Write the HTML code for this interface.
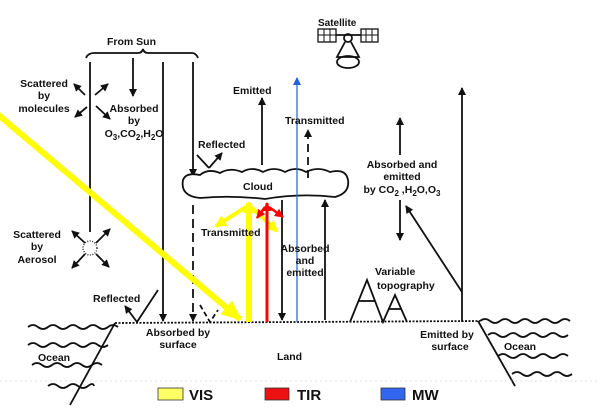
<!DOCTYPE html>
<html><head><meta charset="utf-8"><style>
html,body{margin:0;padding:0;background:#fff;}
svg{display:block;}
text{font-family:"Liberation Sans",sans-serif;font-weight:bold;fill:#111;}
</style></head><body>
<svg width="600" height="416" viewBox="0 0 600 416" xmlns="http://www.w3.org/2000/svg">
<defs>
<marker id="a" markerWidth="8" markerHeight="8" refX="7" refY="4" orient="auto" markerUnits="userSpaceOnUse"><path d="M0,0 L8,4 L0,8 z" fill="#111"/></marker>
<marker id="ay" markerWidth="20" markerHeight="18" refX="18" refY="9" orient="auto" markerUnits="userSpaceOnUse"><path d="M0,0 L20,9 L0,18 z" fill="#ffff00"/></marker>
<marker id="ays" markerWidth="12" markerHeight="12" refX="10" refY="6" orient="auto" markerUnits="userSpaceOnUse"><path d="M0,0 L12,6 L0,12 z" fill="#ffff00"/></marker>
<marker id="ar" markerWidth="9" markerHeight="9" refX="8" refY="4.5" orient="auto" markerUnits="userSpaceOnUse"><path d="M0,0 L9,4.5 L0,9 z" fill="#ff0000"/></marker>
<marker id="ab" markerWidth="8" markerHeight="8" refX="7" refY="4" orient="auto" markerUnits="userSpaceOnUse"><path d="M0,0 L8,4 L0,8 z" fill="#2060e0"/></marker>
</defs>
<g stroke="#111" stroke-width="1.8" fill="none">
<path d="M86,58 Q88,53 94,53 L138,53 Q142,53 143,49 Q144,53 148,53 L192,53 Q196,53 198,58"/>
<line x1="90" y1="62" x2="90" y2="232"/>
<line x1="133" y1="58" x2="133" y2="96" marker-end="url(#a)"/>
<line x1="163" y1="62" x2="163" y2="321" marker-end="url(#a)"/>
<line x1="193" y1="62" x2="193" y2="176" marker-end="url(#a)"/>
<line x1="193" y1="205" x2="193" y2="321" stroke-dasharray="9,5" marker-end="url(#a)"/>
<line x1="85" y1="95" x2="74" y2="84" marker-end="url(#a)"/>
<line x1="95" y1="95" x2="108" y2="84" marker-end="url(#a)"/>
<line x1="87" y1="107" x2="75" y2="117" marker-end="url(#a)"/>
<line x1="96" y1="106" x2="110" y2="119" marker-end="url(#a)"/>
<line x1="85" y1="243" x2="72" y2="231" marker-end="url(#a)"/>
<line x1="96" y1="243" x2="110" y2="229" marker-end="url(#a)"/>
<line x1="85" y1="254" x2="72" y2="268" marker-end="url(#a)"/>
<line x1="96" y1="254" x2="109" y2="267" marker-end="url(#a)"/>
<polyline points="197,155 209,168"/>
<line x1="209" y1="168" x2="222" y2="153" marker-end="url(#a)"/>
<path d="M183,180 Q186,172 200,175 Q208,168 220,173 Q230,167 242,172 Q252,166 263,172 Q274,166 285,172 Q296,166 306,172 Q318,166 330,172 Q346,168 348,180 Q350,193 335,197 Q300,193 265,199 Q230,195 200,198 Q180,196 183,180 Z" fill="#fff"/>
<line x1="262" y1="165" x2="262" y2="98" marker-end="url(#a)"/>
<line x1="308" y1="178" x2="308" y2="130" stroke-dasharray="8,5" marker-end="url(#a)"/>
<line x1="282" y1="200" x2="282" y2="320" marker-end="url(#a)"/>
<line x1="325" y1="320" x2="325" y2="200" marker-end="url(#a)"/>
<line x1="400" y1="155" x2="400" y2="118" marker-end="url(#a)"/>
<line x1="400" y1="200" x2="400" y2="240" marker-end="url(#a)"/>
<line x1="462" y1="322" x2="462" y2="88" marker-end="url(#a)"/>
<line x1="462" y1="292" x2="406" y2="206" marker-end="url(#a)"/>
<path d="M350,322 L367,280 L383,322 L395,295 L407,322"/>
<line x1="359" y1="301" x2="375" y2="301"/>
<line x1="389" y1="309" x2="401" y2="309"/>
<line x1="158" y1="290" x2="137" y2="322"/>
<line x1="137" y1="322" x2="125" y2="306" marker-end="url(#a)"/>
<path d="M200,305 L210,322 L218,310" stroke-dasharray="5,3"/>
<path d="M115,323 L480,321" stroke-dasharray="2,1.5"/>
<line x1="115" y1="323" x2="70" y2="405"/>
<path d="M28,327 q5,-4 10,0 t10,0 t10,0 t10,0 t10,0 t10,0 t10,0 t10,0 t10,0"/>
<path d="M28,345 q5,-4 10,0 t10,0 t10,0 t10,0 t10,0 t10,0 t10,0 t10,0"/>
<path d="M32,365 q5,-4 10,0 t10,0 t10,0 t10,0 t10,0 t10,0 t10,0"/>
<path d="M48,386 q5,-4 10,0 t10,0 t10,0 t10,0 t6,0"/>
<line x1="478" y1="321" x2="515" y2="386"/>
<path d="M480,321 q5,-4 10,0 t10,0 t10,0 t10,0 t10,0 t10,0 t10,0 t10,0 t10,0"/>
<path d="M488,335 q5,-4 10,0 t10,0 t10,0 t10,0 t10,0 t10,0 t10,0 t10,0"/>
<path d="M498,356 q5,-4 10,0 t10,0 t10,0 t10,0 t10,0 t10,0 t10,0"/>
<path d="M512,374 q5,-4 10,0 t10,0 t10,0 t10,0 t10,0 t10,0"/>
<rect x="318" y="29" width="18" height="13" stroke-width="1.3"/>
<line x1="324" y1="29" x2="324" y2="42" stroke-width="1"/><line x1="330" y1="29" x2="330" y2="42" stroke-width="1"/><line x1="318" y1="35" x2="336" y2="35" stroke-width="1"/>
<rect x="361" y="29" width="17" height="13" stroke-width="1.3"/>
<line x1="366" y1="29" x2="366" y2="42" stroke-width="1"/><line x1="372" y1="29" x2="372" y2="42" stroke-width="1"/><line x1="361" y1="35" x2="378" y2="35" stroke-width="1"/>
<line x1="336" y1="35" x2="361" y2="35"/>
<circle cx="348" cy="38" r="4"/>
<path d="M345,42 L337,57 L359,57 L351,42"/>
<ellipse cx="348" cy="62" rx="11" ry="6"/>
</g>
<circle cx="90" cy="248" r="7" fill="none" stroke="#333" stroke-width="1.5" stroke-dasharray="1,1.5"/>
<line x1="297" y1="322" x2="297" y2="78" stroke="#2060e0" stroke-width="1.2" marker-end="url(#ab)"/>
<g stroke="#ffff00" fill="none">
<line x1="-5" y1="112" x2="240" y2="319" stroke-width="6" marker-end="url(#ay)"/>
<line x1="249" y1="322" x2="249" y2="203" stroke-width="6" marker-end="url(#ays)"/>
<line x1="246" y1="207" x2="216" y2="226" stroke-width="4" marker-end="url(#ays)"/>
<line x1="251" y1="207" x2="277" y2="231" stroke-width="4" marker-end="url(#ays)"/>
</g>
<g stroke="#ff0000" fill="none">
<line x1="267" y1="322" x2="267" y2="203" stroke-width="3" marker-end="url(#ar)"/>
<line x1="265" y1="207" x2="257" y2="218" stroke-width="2.5" marker-end="url(#ar)"/>
<line x1="269" y1="207" x2="283" y2="217" stroke-width="2.5" marker-end="url(#ar)"/>
</g>
<g font-size="10.5">
<text x="107" y="45">From Sun</text>
<text x="318" y="26" font-size="10">Satellite</text>
<text x="44" y="87" text-anchor="middle">Scattered</text>
<text x="44" y="99" text-anchor="middle">by</text>
<text x="44" y="112" text-anchor="middle">molecules</text>
<text x="134" y="112" text-anchor="middle">Absorbed</text>
<text x="134" y="124" text-anchor="middle">by</text>
<text x="134" y="137" text-anchor="middle">O<tspan font-size="8" dy="3">3</tspan><tspan dy="-3">,CO</tspan><tspan font-size="8" dy="3">2</tspan><tspan dy="-3">,H</tspan><tspan font-size="8" dy="3">2</tspan><tspan dy="-3">O</tspan></text>
<text x="233" y="94">Emitted</text>
<text x="285" y="124">Transmitted</text>
<text x="198" y="148">Reflected</text>
<text x="243" y="190">Cloud</text>
<text x="201" y="236">Transmitted</text>
<text x="305" y="252" text-anchor="middle">Absorbed</text>
<text x="305" y="264" text-anchor="middle">and</text>
<text x="305" y="276" text-anchor="middle">emitted</text>
<text x="402" y="168" text-anchor="middle">Absorbed and</text>
<text x="402" y="180" text-anchor="middle">emitted</text>
<text x="402" y="193" text-anchor="middle">by CO<tspan font-size="8" dy="3">2</tspan><tspan dy="-3"> ,H</tspan><tspan font-size="8" dy="3">2</tspan><tspan dy="-3">O,O</tspan><tspan font-size="8" dy="3">3</tspan></text>
<text x="37" y="238" text-anchor="middle">Scattered</text>
<text x="37" y="250" text-anchor="middle">by</text>
<text x="37" y="263" text-anchor="middle">Aerosol</text>
<text x="375" y="275">Variable</text>
<text x="377" y="289">topography</text>
<text x="93" y="302">Reflected</text>
<text x="178" y="336" text-anchor="middle">Absorbed by</text>
<text x="178" y="348" text-anchor="middle">surface</text>
<text x="447" y="338" text-anchor="middle">Emitted by</text>
<text x="450" y="350" text-anchor="middle">surface</text>
<text x="38" y="361">Ocean</text>
<text x="504" y="350">Ocean</text>
<text x="277" y="360">Land</text>
</g>
<line x1="0" y1="381" x2="600" y2="381" stroke="#ccc" stroke-width="0.6" stroke-dasharray="2,3"/>
<rect x="158" y="388" width="25" height="12" fill="#ffff66" stroke="#333" stroke-width="0.8"/>
<text x="189" y="400" font-size="15" font-weight="normal">VIS</text>
<rect x="265" y="388" width="24" height="12" fill="#ee1111" stroke="#333" stroke-width="0.8"/>
<text x="297" y="400" font-size="15" font-weight="normal">TIR</text>
<rect x="381" y="388" width="24" height="12" fill="#3366ee" stroke="#333" stroke-width="0.8"/>
<text x="412" y="400" font-size="15" font-weight="normal">MW</text>
</svg>
</body></html>
